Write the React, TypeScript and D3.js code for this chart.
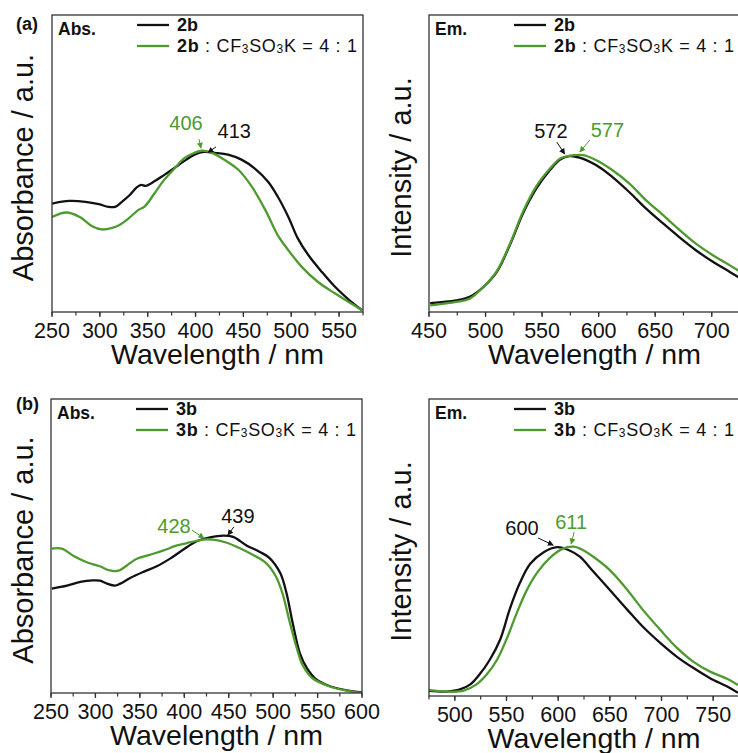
import React from "react";
import * as d3 from "d3";

// ---------- data ----------
// (a) absorption, 2b
const abs2bNm = [250, 268, 285, 299, 309, 316, 323, 331, 338, 343, 348, 357, 367, 378, 388, 399, 409, 420, 434, 448, 462, 476, 486, 497, 507, 518, 532, 546, 560, 574];
const abs2bVal = [0.365, 0.374, 0.371, 0.363, 0.354, 0.354, 0.371, 0.393, 0.418, 0.428, 0.425, 0.44, 0.461, 0.485, 0.508, 0.53, 0.539, 0.536, 0.53, 0.513, 0.483, 0.438, 0.388, 0.32, 0.247, 0.191, 0.135, 0.084, 0.042, 0.006];
// (a) absorption, 2b : CF3SO3K = 4 : 1
const abs2bKNm = [250, 265, 279, 292, 302, 313, 320, 330, 340, 347, 357, 367, 378, 388, 399, 406, 417, 431, 445, 459, 473, 486, 497, 511, 528, 546, 560, 574];
const abs2bKVal = [0.32, 0.335, 0.32, 0.289, 0.278, 0.283, 0.292, 0.315, 0.343, 0.356, 0.399, 0.444, 0.483, 0.517, 0.536, 0.543, 0.536, 0.511, 0.478, 0.421, 0.343, 0.258, 0.208, 0.152, 0.101, 0.062, 0.034, 0.006];
// (a) emission, 2b
const em2bNm = [451, 474, 486, 498, 510, 522, 533, 545, 557, 566, 574, 583, 598, 612, 627, 642, 657, 671, 686, 701, 716, 725];
const em2bVal = [0.03, 0.039, 0.051, 0.084, 0.135, 0.23, 0.331, 0.416, 0.478, 0.513, 0.525, 0.52, 0.494, 0.455, 0.404, 0.348, 0.298, 0.253, 0.208, 0.169, 0.135, 0.114];
// (a) emission, 2b : CF3SO3K
const em2bKNm = [451, 474, 486, 498, 510, 522, 533, 545, 557, 566, 574, 586, 598, 612, 627, 642, 657, 671, 686, 701, 716, 725];
const em2bKVal = [0.022, 0.034, 0.045, 0.084, 0.138, 0.233, 0.337, 0.424, 0.483, 0.517, 0.526, 0.528, 0.511, 0.478, 0.433, 0.376, 0.326, 0.278, 0.23, 0.191, 0.157, 0.136];
// (b) absorption, 3b
const abs3bNm = [251, 268, 283, 297, 305, 313, 322, 328, 339, 354, 369, 384, 399, 414, 429, 444, 455, 470, 485, 496, 508, 515, 522, 530, 538, 549, 564, 583, 600];
const abs3bVal = [0.355, 0.365, 0.378, 0.383, 0.382, 0.372, 0.365, 0.372, 0.391, 0.412, 0.431, 0.457, 0.488, 0.516, 0.529, 0.535, 0.531, 0.502, 0.48, 0.459, 0.408, 0.34, 0.238, 0.136, 0.085, 0.045, 0.023, 0.009, 0.002];
// (b) absorption, 3b : CF3SO3K
const abs3bKNm = [251, 262, 276, 291, 305, 316, 326, 335, 346, 361, 376, 391, 406, 421, 432, 447, 462, 477, 492, 503, 511, 518, 526, 533, 544, 563, 581, 600];
const abs3bKVal = [0.491, 0.491, 0.465, 0.444, 0.431, 0.417, 0.416, 0.433, 0.456, 0.47, 0.484, 0.501, 0.512, 0.522, 0.522, 0.512, 0.493, 0.47, 0.442, 0.397, 0.334, 0.249, 0.159, 0.096, 0.051, 0.023, 0.009, 0.0];
// (b) emission, 3b
const em3bNm = [475, 492, 505, 515, 524, 534, 544, 553, 563, 573, 586, 599, 611, 621, 634, 650, 667, 682, 699, 715, 731, 747, 764, 774];
const em3bVal = [0.017, 0.015, 0.022, 0.039, 0.073, 0.123, 0.191, 0.291, 0.381, 0.445, 0.484, 0.501, 0.49, 0.469, 0.419, 0.357, 0.29, 0.233, 0.178, 0.132, 0.094, 0.06, 0.031, 0.011];
// (b) emission, 3b : CF3SO3K
const em3bKNm = [475, 492, 508, 521, 531, 541, 550, 560, 570, 580, 592, 605, 615, 622, 634, 650, 667, 682, 699, 715, 731, 747, 764, 774];
const em3bKVal = [0.02, 0.015, 0.017, 0.039, 0.073, 0.123, 0.191, 0.28, 0.359, 0.417, 0.465, 0.497, 0.503, 0.495, 0.469, 0.424, 0.357, 0.29, 0.222, 0.162, 0.115, 0.082, 0.057, 0.037];

// tick labels
const ticksAbsA = [250, 300, 350, 400, 450, 500, 550];
const ticksEmA = [450, 500, 550, 600, 650, 700];
const ticksAbsB = [250, 300, 350, 400, 450, 500, 550, 600];
const ticksEmB = [500, 550, 600, 650, 700, 750];

// peak labels
const peaksAbsA = ["406", "413"];
const peaksEmA = ["572", "577"];
const peaksAbsB = ["428", "439"];
const peaksEmB = ["600", "611"];

const BLACK = "#111111";
const GREEN = "#4e9a2e";
const FONT = "Arial, 'Liberation Sans', Helvetica, sans-serif";

const zip = (xs: number[], ys: number[]) => xs.map((x, i) => [x, ys[i]] as [number, number]);

type Ann = { text: string; color: string; tx: number; ty: number; anchor: string; a0: [number, number]; a1: [number, number] };

const panels = [
  {
    id: "aa", letter: "(a)", tag: "Abs.", compound: "2b", yLabel: "Absorbance / a.u.",
    left: 52, right: 363, top: 15, bottom: 312, xDomain: [250, 575], minorStart: 250, ticks: ticksAbsA,
    yTitleX: 33, letterPos: [16, 30],
    series: [zip(abs2bNm, abs2bVal), zip(abs2bKNm, abs2bKVal)],
    anns: [
      { text: peaksAbsA[0], color: GREEN, tx: 390, ty: 0.613, anchor: "middle", a0: [403.6, 0.582], a1: [405.7, 0.552] },
      { text: peaksAbsA[1], color: BLACK, tx: 423, ty: 0.586, anchor: "start", a0: [421.4, 0.556], a1: [413, 0.537] },
    ] as Ann[],
  },
  {
    id: "ae", letter: "", tag: "Em.", compound: "2b", yLabel: "Intensity / a.u.",
    left: 429, right: 740, top: 15, bottom: 312, xDomain: [450, 725], minorStart: 450, ticks: ticksEmA,
    yTitleX: 411, letterPos: [0, 0],
    series: [zip(em2bNm, em2bVal), zip(em2bKNm, em2bKVal)],
    anns: [
      { text: peaksEmA[0], color: BLACK, tx: 557.8, ty: 0.586, anchor: "middle", a0: [563, 0.572], a1: [570, 0.532] },
      { text: peaksEmA[1], color: GREEN, tx: 607.7, ty: 0.589, anchor: "middle", a0: [592.2, 0.579], a1: [583.4, 0.539] },
    ] as Ann[],
  },
  {
    id: "ba", letter: "(b)", tag: "Abs.", compound: "3b", yLabel: "Absorbance / a.u.",
    left: 51, right: 362, top: 399, bottom: 693, xDomain: [250, 600], minorStart: 250, ticks: ticksAbsB,
    yTitleX: 33, letterPos: [16, 410],
    series: [zip(abs3bNm, abs3bVal), zip(abs3bKNm, abs3bKVal)],
    anns: [
      { text: peaksAbsB[0], color: GREEN, tx: 388.4, ty: 0.544, anchor: "middle", a0: [408.6, 0.554], a1: [422.1, 0.527] },
      { text: peaksAbsB[1], color: BLACK, tx: 460.3, ty: 0.578, anchor: "middle", a0: [455.8, 0.565], a1: [449.1, 0.537] },
    ] as Ann[],
  },
  {
    id: "be", letter: "", tag: "Em.", compound: "3b", yLabel: "Intensity / a.u.",
    left: 429, right: 739, top: 399, bottom: 696, xDomain: [475, 775], minorStart: 475, ticks: ticksEmB,
    yTitleX: 411, letterPos: [0, 0],
    series: [zip(em3bNm, em3bVal), zip(em3bKNm, em3bKVal)],
    anns: [
      { text: peaksEmB[0], color: BLACK, tx: 565, ty: 0.542, anchor: "middle", a0: [580.6, 0.532], a1: [595.2, 0.508] },
      { text: peaksEmB[1], color: GREEN, tx: 612.6, ty: 0.562, anchor: "middle", a0: [615.5, 0.552], a1: [612.6, 0.512] },
    ] as Ann[],
  },
];

function Panel({ p }: { p: (typeof panels)[number] }) {
  const x = d3.scaleLinear().domain(p.xDomain).range([p.left, p.right]);
  const y = d3.scaleLinear().domain([0, 1]).range([p.bottom, p.top]);
  const line = d3
    .line<[number, number]>()
    .x((d) => x(d[0]))
    .y((d) => y(d[1]))
    .curve(d3.curveCatmullRom.alpha(0.5));
  const minor = d3.range(p.minorStart, p.xDomain[1] + 0.1, 25);
  const colors = [BLACK, GREEN];
  const cx = (p.left + p.right) / 2;
  const cy = (p.top + p.bottom) / 2;
  const lx0 = p.left + 85;
  const lx1 = p.left + 117;
  const tx = p.left + 125;
  return (
    <g>
      <defs>
        <clipPath id={`clip-${p.id}`}>
          <rect x={p.left} y={p.top} width={p.right - p.left} height={p.bottom - p.top} />
        </clipPath>
      </defs>
      <g clipPath={`url(#clip-${p.id})`}>
        {p.series.map((s, i) => (
          <path key={i} d={line(s) || ""} fill="none" stroke={colors[i]} strokeWidth={2.3} strokeLinejoin="round" />
        ))}
      </g>
      <rect x={p.left} y={p.top} width={p.right - p.left} height={p.bottom - p.top} fill="none" stroke="#333" strokeWidth={1.3} />
      {minor.map((t) => (
        <line key={"m" + t} x1={x(t)} x2={x(t)} y1={p.bottom} y2={p.bottom + 3.5} stroke="#333" strokeWidth={1.2} />
      ))}
      {p.ticks.map((t) => (
        <g key={"t" + t}>
          <line x1={x(t)} x2={x(t)} y1={p.bottom} y2={p.bottom + 5} stroke="#333" strokeWidth={1.3} />
          <text x={x(t)} y={p.bottom + 26} textAnchor="middle" fontSize={21.5} fontFamily={FONT} fill="#111">
            {t}
          </text>
        </g>
      ))}
      <text x={cx + 10} y={p.bottom + 52} textAnchor="middle" fontSize={28.5} fontFamily={FONT} fill="#111">
        Wavelength / nm
      </text>
      <text transform={`translate(${p.yTitleX},${cy + 4}) rotate(-90)`} textAnchor="middle" fontSize={29} fontFamily={FONT} fill="#111">
        {p.yLabel}
      </text>
      {p.letter && (
        <text x={p.letterPos[0]} y={p.letterPos[1]} fontSize={18} fontWeight="bold" fontFamily={FONT} fill="#111">
          {p.letter}
        </text>
      )}
      <text x={p.left + 6} y={p.top + 20} fontSize={17.5} fontWeight="bold" fontFamily={FONT} fill="#111">
        {p.tag}
      </text>
      {/* legend */}
      <line x1={lx0} x2={lx1} y1={p.top + 10} y2={p.top + 10} stroke={BLACK} strokeWidth={2.3} />
      <line x1={lx0} x2={lx1} y1={p.top + 31} y2={p.top + 31} stroke={GREEN} strokeWidth={2.3} />
      <text x={tx} y={p.top + 16} fontSize={18} fontWeight="bold" fontFamily={FONT} fill="#111">
        {p.compound}
      </text>
      <text x={tx} y={p.top + 37} fontSize={18} fontFamily={FONT} fill="#111" textLength={180} lengthAdjust="spacing">
        <tspan fontWeight="bold">{p.compound}</tspan>
        <tspan> : CF</tspan>
        <tspan fontSize={12} dy={1}>3</tspan>
        <tspan dy={-1}>SO</tspan>
        <tspan fontSize={12} dy={1}>3</tspan>
        <tspan dy={-1}>K = 4 : 1</tspan>
      </text>
      {/* peak annotations */}
      {p.anns.map((a, i) => (
        <g key={"a" + i}>
          <text x={x(a.tx)} y={y(a.ty)} textAnchor={a.anchor} fontSize={20} fontFamily={FONT} fill={a.color}>
            {a.text}
          </text>
          <line
            x1={x(a.a0[0])}
            y1={y(a.a0[1])}
            x2={x(a.a1[0])}
            y2={y(a.a1[1])}
            stroke={a.color}
            strokeWidth={1}
            markerEnd={`url(#arrow-${a.color === GREEN ? "g" : "k"})`}
          />
        </g>
      ))}
    </g>
  );
}

export default function App() {
  return (
    <svg
      width={738}
      height={753}
      viewBox="0 0 738 753"
      style={{ position: "absolute", left: 0, top: 0, background: "#fff" }}
    >
      <defs>
        <marker id="arrow-k" viewBox="0 0 10 10" refX={9} refY={5} markerWidth={6} markerHeight={6} orient="auto" markerUnits="userSpaceOnUse">
          <path d="M0,0 L10,5 L0,10 z" fill={BLACK} />
        </marker>
        <marker id="arrow-g" viewBox="0 0 10 10" refX={9} refY={5} markerWidth={6} markerHeight={6} orient="auto" markerUnits="userSpaceOnUse">
          <path d="M0,0 L10,5 L0,10 z" fill={GREEN} />
        </marker>
      </defs>
      <rect x={0} y={0} width={738} height={753} fill="#fff" />
      {panels.map((p) => (
        <Panel key={p.id} p={p} />
      ))}
    </svg>
  );
}
